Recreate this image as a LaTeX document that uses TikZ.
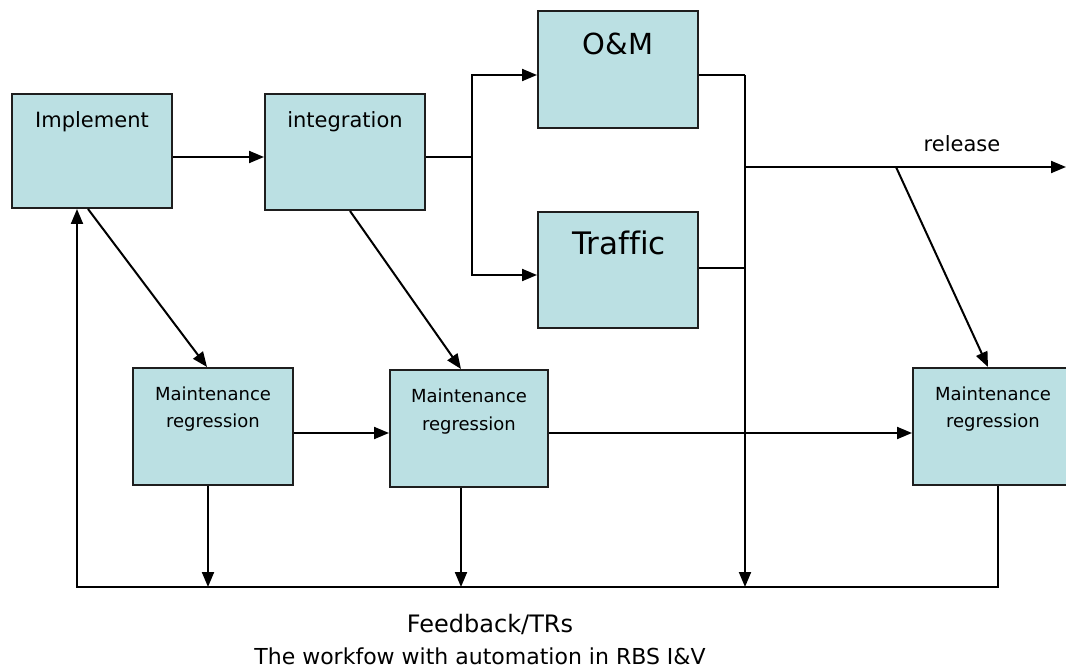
\documentclass[tikz,border=0pt]{standalone}
\usepackage{fontspec}
\setmainfont{DejaVu Sans}
\usetikzlibrary{arrows.meta,calc}
\definecolor{boxfill}{RGB}{187,224,227}
\definecolor{boxline}{RGB}{30,30,30}
\tikzset{
  stagebox/.style={draw=boxline, fill=boxfill, line width=2pt, minimum width=160pt, minimum height=116pt, inner sep=0pt},
  flow/.style={line width=2pt, draw=black},
  arr/.style={flow, -{Triangle[length=15pt,width=12pt]}},
  boxtext/.style={font=\fontsize{21}{25}\selectfont, anchor=base, inner sep=0pt},
  bigtext/.style={font=\fontsize{29}{34}\selectfont, anchor=base, inner sep=0pt},
  mrtext/.style={font=\fontsize{18}{28}\selectfont, anchor=base, inner sep=0pt, align=center},
}
\begin{document}
\begin{tikzpicture}[x=1pt, y=-1pt]
\useasboundingbox (0,0) rectangle (1066,668);
\clip (0,0) rectangle (1066,668);

% stage boxes
\node[stagebox, minimum height=114pt] (impl) at (92,151) {};
\node[stagebox] (integ) at (345,152) {};
\node[stagebox, minimum height=117pt] (om) at (618,69.5) {};
\node[stagebox] (traffic) at (618,270) {};
\node[stagebox, minimum height=117pt] (mr1) at (213,426.5) {};
\node[stagebox, minimum width=158pt, minimum height=117pt] (mr2) at (469,428.5) {};
\node[stagebox, minimum height=117pt] (mr3) at (993,426.5) {};

% box texts
\node[boxtext] (implT) at (92,128) {Implement};
\node[boxtext] (integT) at (345,128) {integration};
\node[bigtext] (omT) at (618,55) {O\&M};
\node[bigtext, font=\addfontfeatures{Ligatures=NoCommon}\fontsize{31}{36}\selectfont] (trafficT) at (619,255) {Traffic};
% base anchor of a two-line node sits on its last line
\node[mrtext] (mr1T) at (213,428) {Maintenance\\regression};
\node[mrtext] (mr2T) at (469,430) {Maintenance\\regression};
\node[mrtext] (mr3T) at (993,428) {Maintenance\\regression};

% junction points
\coordinate (split) at (472,157);
\coordinate (omout) at (745,75);
\coordinate (trout) at (745,268);
\coordinate (relpt) at (745,167);
\coordinate (relend) at (1066,167);
\coordinate (tap) at (896,167);
\coordinate (fbin) at (745,587);
\coordinate (fb1) at (208,587);
\coordinate (fb2) at (461,587);
\coordinate (fbr) at (998,587);
\coordinate (fbl) at (77,587);

% forward flow
\draw[arr] (impl.east |- split) -- (integ.west |- split);
\draw[flow] (integ.east |- split) -- (split);
\draw[arr] (split) |- (om.west |- omout);
\draw[arr] (split) |- (traffic.west |- 0,275);
\draw[flow] (om.east |- omout) -- (omout);
\draw[flow] (traffic.east |- trout) -- (trout);
\draw[arr] (omout) -- (fbin);
\draw[arr] (relpt) -- (relend);
\node[boxtext] (relT) at (962,152) {release};
\draw[arr] (tap) -- (mr3.north -| 988,0);

% regression branches
\draw[arr] (impl.south -| 88,0) -- (mr1.north -| 207,0);
\draw[arr] (integ.south -| 350,0) -- (mr2.north -| 461,0);
\draw[arr] (mr1.east |- 0,433) -- (mr2.west |- 0,433);
\draw[arr] (mr2.east |- 0,433) -- (mr3.west |- 0,433);

% feedback loop
\draw[arr] (mr1.south -| fb1) -- (fb1);
\draw[arr] (mr2.south -| fb2) -- (fb2);
\draw[arr] (mr3.south -| fbr) -- (fbr) -- (fbl) -- (impl.south -| fbl);

% captions
\node[font=\fontsize{24}{28}\selectfont, anchor=base, inner sep=0pt] (fbT) at (490,632) {Feedback/TRs};
\node[font=\fontsize{22}{26}\selectfont, anchor=base, inner sep=0pt] (capT) at (480,664) {The workfow with automation in RBS I\&V};
\end{tikzpicture}
\end{document}
